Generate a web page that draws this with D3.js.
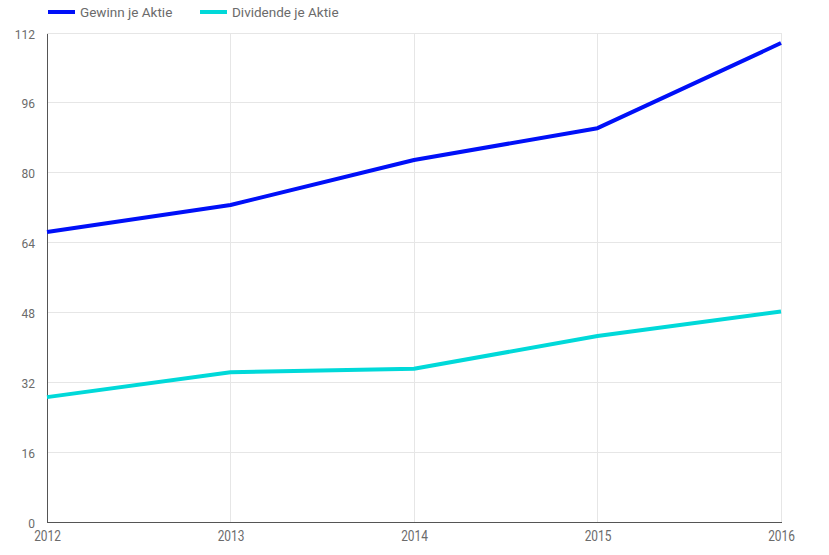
<!DOCTYPE html>
<html>
<head>
<meta charset="utf-8">
<script src="https://cdn.jsdelivr.net/npm/d3@7"></script>
<style>
  html, body { margin: 0; padding: 0; background: #fff; }
  svg { display: block; font-family: Roboto, "Noto Sans", sans-serif; }
</style>
</head>
<body>
<svg id="chart" width="829" height="555"></svg>
<script>
const years = [2012, 2013, 2014, 2015, 2016];
const gewinn = [66.4, 72.6, 82.9, 90.2, 109.7];
const dividende = [28.6, 34.3, 35.1, 42.6, 48.2];
const yTicks = [0, 16, 32, 48, 64, 80, 96, 112];
const seriesNames = ["Gewinn je Aktie", "Dividende je Aktie"];
const seriesColors = ["#0010f8", "#00d9d9"];

const svg = d3.select("#chart");
const margin = { left: 47, right: 48, top: 33, bottom: 33 };
const W = 829, H = 555;

const x = d3.scaleLinear().domain([2012, 2016]).range([margin.left, W - margin.right]);
const y = d3.scaleLinear().domain([0, 112]).range([H - margin.bottom, margin.top]);

// Horizontal gridlines
svg.append("g")
  .selectAll("line")
  .data(yTicks.filter(d => d > 0))
  .join("line")
  .attr("x1", x(2012)).attr("x2", x(2016))
  .attr("y1", d => y(d)).attr("y2", d => y(d))
  .attr("stroke", "#e6e6e6").attr("stroke-width", 1)
  .attr("shape-rendering", "crispEdges");

// Vertical gridlines
svg.append("g")
  .selectAll("line")
  .data(years.slice(1))
  .join("line")
  .attr("x1", d => x(d)).attr("x2", d => x(d))
  .attr("y1", y(112)).attr("y2", y(0))
  .attr("stroke", "#e6e6e6").attr("stroke-width", 1)
  .attr("shape-rendering", "crispEdges");

// Y axis
const yAxis = svg.append("g")
  .attr("transform", `translate(${x(2012)},0)`)
  .call(d3.axisLeft(y).tickValues(yTicks).tickSize(0).tickPadding(12).tickFormat(d3.format("d")));
yAxis.select(".domain").attr("stroke", "#555").attr("shape-rendering", "crispEdges");
yAxis.selectAll("text")
  .attr("fill", "#6b6b6b")
  .style("font-size", "12px")
  .style("font-family", "Roboto, sans-serif")
  .attr("dy", "0.42em");

// X axis
const xAxis = svg.append("g")
  .attr("transform", `translate(0,${y(0)})`)
  .call(d3.axisBottom(x).tickValues(years).tickSize(0).tickPadding(9).tickFormat(d3.format("d")));
xAxis.select(".domain").attr("stroke", "#555").attr("shape-rendering", "crispEdges");
xAxis.selectAll("text")
  .attr("fill", "#6b6b6b")
  .style("font-size", "14px")
  .style("font-family", "Roboto, sans-serif")
  .attr("transform", "scale(0.85,1)");

// Lines
const line = d3.line()
  .x((d, i) => x(years[i]))
  .y(d => y(d));

[gewinn, dividende].forEach((vals, k) => {
  svg.append("path")
    .datum(vals)
    .attr("d", line)
    .attr("fill", "none")
    .attr("stroke", seriesColors[k])
    .attr("stroke-width", 4)
    .attr("stroke-linejoin", "round");
});

// Legend
const legendX = [48, 200];
const legend = svg.append("g");
seriesNames.forEach((name, k) => {
  const g = legend.append("g").attr("transform", `translate(${legendX[k]},12)`);
  g.append("line")
    .attr("x1", 0).attr("x2", 27).attr("y1", 0).attr("y2", 0)
    .attr("stroke", seriesColors[k]).attr("stroke-width", 4);
  g.append("text")
    .attr("x", 32).attr("y", 5)
    .attr("fill", "#6b6b6b")
    .style("font-size", "13.5px")
    .text(name);
});
</script>
</body>
</html>
